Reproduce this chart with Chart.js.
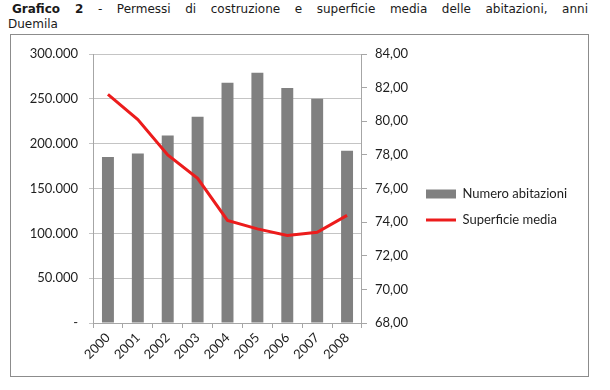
<!DOCTYPE html>
<html lang="it">
<head>
<meta charset="utf-8">
<title>Grafico 2</title>
<script src="https://cdn.jsdelivr.net/npm/chart.js@4/dist/chart.umd.min.js"></script>
<style>
    html, body { margin: 0; padding: 0; background: #fff; }
    body { width: 610px; height: 390px; position: relative; overflow: hidden; }
    .title { position: absolute; left: 12px; top: 2px; width: 576px;
             font: 12px "DejaVu Sans", Verdana, sans-serif; line-height: 15px; color: #1a1a1a; }
    .title .l1 { text-align: justify; text-align-last: justify; }
    .title .l2 { position: absolute; left: -4px; top: 15px; }
    .frame { position: absolute; left: 10px; top: 34px; width: 577px; height: 341px;
             border: 1px solid #8c8c8c; }
</style>
</head>
<body>
<div class="title">
    <div class="l1"><b>Grafico 2</b> - Permessi di costruzione e superficie media delle abitazioni, anni</div>
    <div class="l2">Duemila</div>
</div>
<div class="frame"><canvas id="chart" width="577" height="341"></canvas></div>
<script>
// Anni, permessi (numero abitazioni) e superficie media (mq)
const years = ['2000', '2001', '2002', '2003', '2004', '2005', '2006', '2007', '2008'];
const numeroAbitazioni = [185000, 189000, 209000, 230000, 268000, 279000, 262000, 250000, 192000];
const superficieMedia = [81.6, 80.1, 78.0, 76.6, 74.1, 73.6, 73.2, 73.4, 74.4];

const leftMin = 0, leftMax = 300000, leftStep = 50000;
const rightMin = 68, rightMax = 84, rightStep = 2;

const GREY_BAR = '#808080';
const RED_LINE = '#ec1c1c';
const GRID = '#c4c4c4';
const AXIS = '#a6a6a6';
const TEXT = '#1e1e1e';
const FONT = { family: 'Lato, "Open Sans", sans-serif', size: 13 };

// 250000 -> "250.000", 0 -> "-"
function fmtThousands(v) {
    if (v === 0) return '-';
    return String(v).replace(/\B(?=(\d{3})+(?!\d))/g, '.');
}

new Chart(document.getElementById('chart'), {
    data: {
        labels: years,
        datasets: [
            {
                type: 'bar',
                label: 'Numero abitazioni',
                data: numeroAbitazioni,
                backgroundColor: GREY_BAR,
                borderColor: GREY_BAR,
                borderWidth: 0,
                barPercentage: 0.4,
                categoryPercentage: 1,
                yAxisID: 'y',
                order: 1,
            },
            {
                type: 'line',
                label: 'Superficie media',
                data: superficieMedia,
                borderColor: RED_LINE,
                backgroundColor: RED_LINE,
                borderWidth: 3,
                pointRadius: 0,
                tension: 0,
                yAxisID: 'y1',
                order: 0,
            },
        ],
    },
    options: {
        responsive: false,
        animation: false,
        // bottom padding only nudges the (full height) legend up; x axis height compensates
        layout: { padding: { top: 19, right: 11, bottom: 16, left: 0 } },
        plugins: {
            tooltip: { enabled: false },
            legend: {
                position: 'right',
                align: 'center',
                maxWidth: 220,
                labels: {
                    color: TEXT,
                    font: FONT,
                    usePointStyle: true,
                    pointStyleWidth: 30,
                    boxHeight: 9,
                    padding: 13,
                    // bars first, then the line; box for bars, stroke for the line
                    generateLabels(chart) {
                        const items = Chart.defaults.plugins.legend.labels.generateLabels(chart);
                        items.sort((a, b) => a.datasetIndex - b.datasetIndex);
                        items.forEach(it => {
                            const t = chart.data.datasets[it.datasetIndex].type;
                            it.pointStyle = (t === 'line') ? 'line' : 'rect';
                        });
                        return items;
                    },
                },
            },
        },
        scales: {
            x: {
                offset: true,
                grid: { display: true, drawOnChartArea: false, offset: true, tickLength: 5, color: AXIS },
                border: { color: AXIS },
                ticks: { color: TEXT, font: FONT, minRotation: 45, maxRotation: 45, padding: 2 },
                afterFit(scale) { scale.height = 37; },
            },
            y: {
                position: 'left',
                min: leftMin,
                max: leftMax,
                grid: { color: GRID, tickLength: 4 },
                border: { color: AXIS },
                ticks: { stepSize: leftStep, color: TEXT, font: FONT, padding: 11, callback: v => fmtThousands(v) },
                afterFit(scale) { scale.width = 82; },
            },
            y1: {
                position: 'right',
                min: rightMin,
                max: rightMax,
                grid: { drawOnChartArea: false, tickLength: 5, color: AXIS },
                border: { color: AXIS },
                ticks: { stepSize: rightStep, color: TEXT, font: FONT, padding: 8,
                         callback: v => v.toFixed(2).replace('.', ',') },
                afterFit(scale) { scale.width = 51; },
            },
        },
    },
});
</script>
</body>
</html>
